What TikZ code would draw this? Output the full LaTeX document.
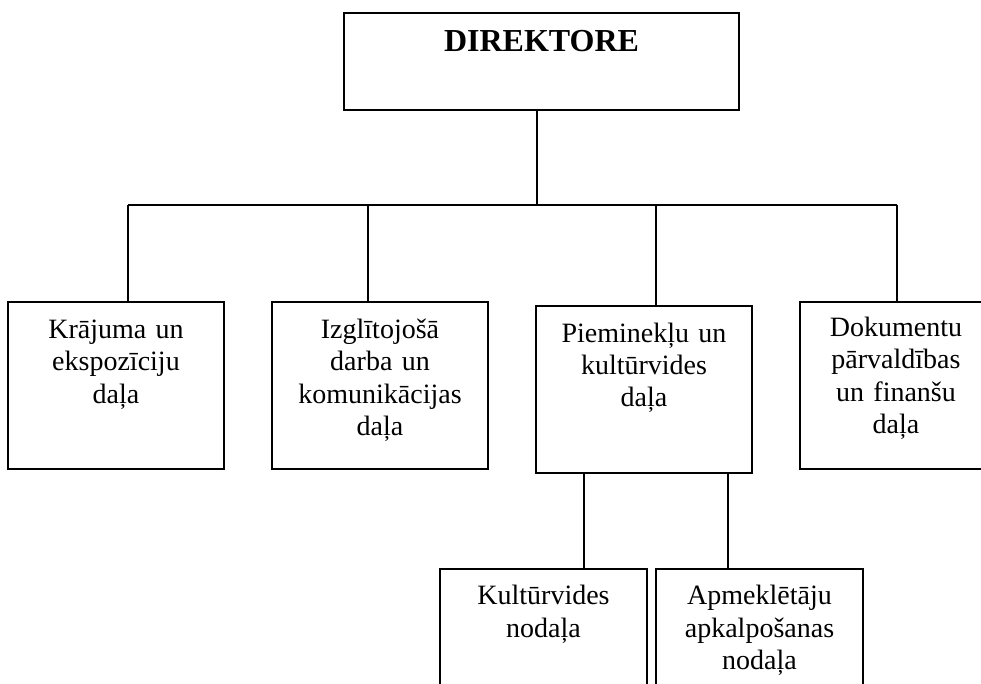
\documentclass[tikz,border=0pt]{standalone}
\usepackage{fontspec}
\setmainfont{Liberation Serif}
\begin{document}
\begin{tikzpicture}[x=1pt,y=-1pt,
  box/.style={draw, line width=2pt, rectangle, inner sep=0pt},
  lbl/.style={align=center, text width=214pt, inner sep=0pt, font=\fontsize{28}{32.4}\selectfont},
  conn/.style={line width=2pt}]
\useasboundingbox (0,0) rectangle (981,684);
\clip (0,0) rectangle (981,684);
% boxes
\node[box, minimum width=395pt, minimum height=97pt] (top) at (541.5,61.5) {};
\node[box, minimum width=216pt, minimum height=167pt] (b1) at (116,385.5) {};
\node[box, minimum width=216pt, minimum height=167pt] (b2) at (380,385.5) {};
\node[box, minimum width=216pt, minimum height=167pt] (b3) at (644,389.5) {};
\node[box, minimum width=192pt, minimum height=167pt] (b4) at (896,385.5) {};
\node[box, minimum width=207pt, minimum height=141pt] (b5) at (543.5,639.5) {};
\node[box, minimum width=207pt, minimum height=141pt] (b6) at (759.5,639.5) {};
% texts
\node[anchor=base, inner sep=0pt, font=\fontsize{32}{38}\selectfont\bfseries] (t0) at ([yshift=-39.7pt]top.north) {DIREKTORE};
\node[lbl, anchor=base] (t1) at ([yshift=-37.5pt]b1.north) {Krājuma un\\ekspozīciju\\daļa};
\node[lbl, anchor=base] (t2) at ([yshift=-37.5pt]b2.north) {Izglītojošā\\darba un\\komunikācijas\\daļa};
\node[lbl, anchor=base] (t3) at ([yshift=-37pt]b3.north) {Pieminekļu un\\kultūrvides\\daļa};
\node[lbl, anchor=base] (t4) at ([yshift=-35.5pt]b4.north) {Dokumentu\\pārvaldības\\un finanšu\\daļa};
\node[lbl, anchor=base] (t5) at ([yshift=-36.7pt]b5.north) {Kultūrvides\\nodaļa};
\node[lbl, anchor=base] (t6) at ([yshift=-36.7pt]b6.north) {Apmeklētāju\\apkalpošanas\\nodaļa};
% connector coordinates
\coordinate (dt) at (537,205);
\coordinate (d1) at (128,205);
\coordinate (d2) at (368,205);
\coordinate (d3) at (656,205);
\coordinate (d4) at (897,205);
\coordinate (e5) at (584,569);
\coordinate (e6) at (728,569);
% connectors
\draw[conn] (top.south -| dt) -- (dt);
\draw[conn] (d1) -- (d4);
\draw[conn] (d1) -- (b1.north -| d1);
\draw[conn] (d2) -- (b2.north -| d2);
\draw[conn] (d3) -- (b3.north -| d3);
\draw[conn] (d4) -- (b4.north -| d4);
\draw[conn] (b3.south -| e5) -- (b5.north -| e5);
\draw[conn] (b3.south -| e6) -- (b6.north -| e6);
\end{tikzpicture}
\end{document}
